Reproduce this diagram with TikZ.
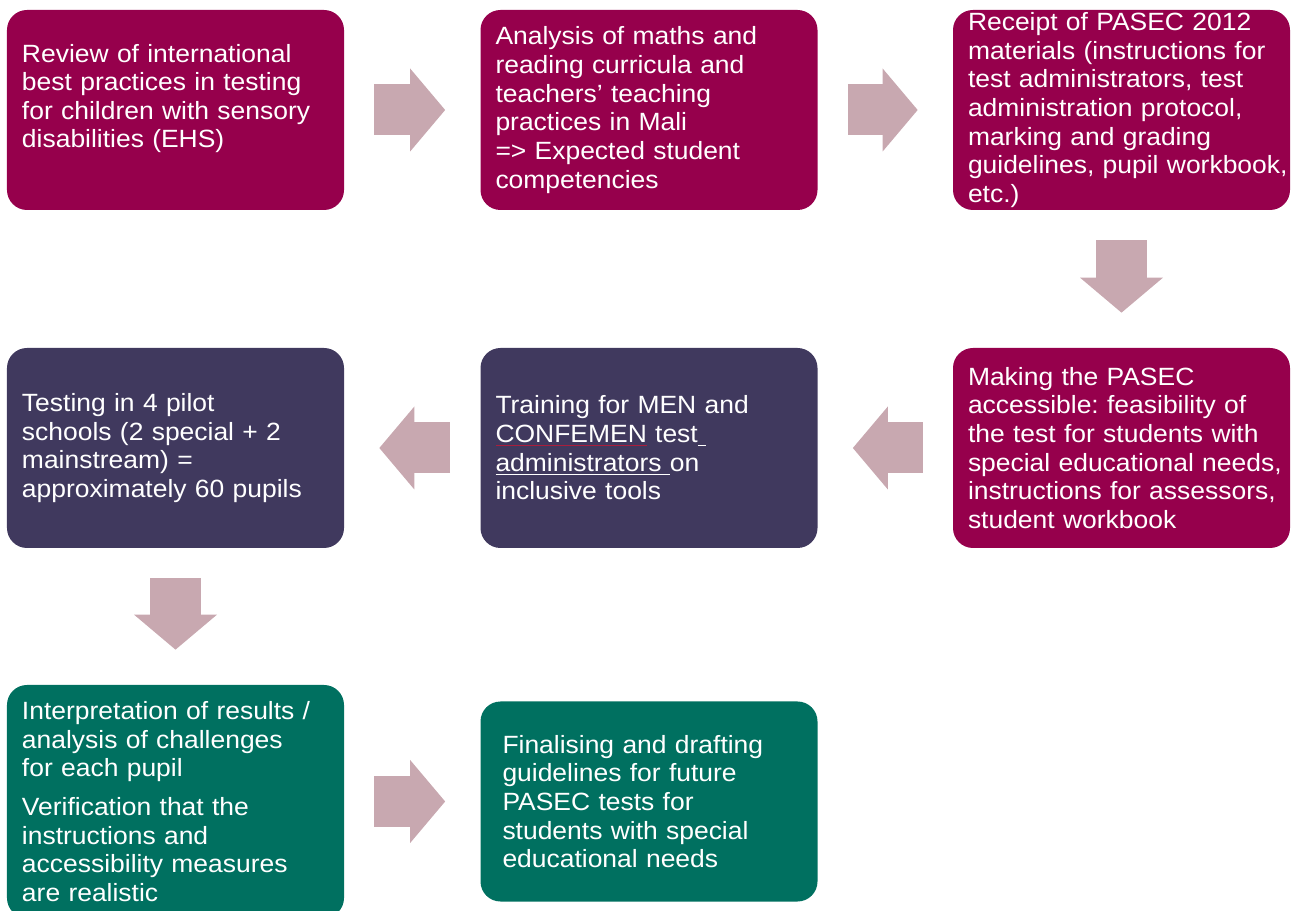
\documentclass[tikz,border=0pt]{standalone}
\usepackage{fontspec}
\setmainfont[FakeStretch=1.06]{Liberation Sans}
\usepackage{tikz}
\usetikzlibrary{positioning,arrows.meta}

\definecolor{berry}{RGB}{150,0,76}
\definecolor{slatepurple}{RGB}{64,57,94}
\definecolor{deepgreen}{RGB}{0,112,96}
\definecolor{mauve}{RGB}{200,168,176}
\definecolor{spellred}{RGB}{170,30,60}

\begin{document}
\begin{tikzpicture}[x=0.2mm,y=-0.2mm,
  box/.style={fill=#1,text=white,rounded corners=4mm,align=left,inner xsep=3mm,inner ysep=0pt,
    text width=61.4mm,minimum width=67.4mm,minimum height=40mm,
    font=\fontsize{14.2pt}{16.3pt}\selectfont\frenchspacing},
  blk/.style={draw=mauve,line width=10.2mm,shorten <=6mm,shorten >=7mm,
    -{Triangle[width=16.6mm,length=7mm,line width=0pt]}}]
\useasboundingbox (0,0) rectangle (1293,911);
% top row
\node[box=berry] (review) at (175.5,110) {Review of international\\best practices in testing\\for children with sensory\\disabilities (EHS)\rule[-5.6mm]{0pt}{0pt}};
\node[box=berry] (curricula) at (649,110) {Analysis of maths and\\reading curricula and\\teachers’ teaching\\practices in Mali\\=> Expected student\\competencies};
\node[box=berry] (receipt) at (1121.5,110) {Receipt of PASEC 2012\\\mbox{materials (instructions for}\\test administrators, test\\administration protocol,\\marking and grading\\\mbox{guidelines, pupil workbook,}\\etc.)};
% middle row
\node[box=berry] (access) at (1121.5,448) {Making the PASEC\\accessible: feasibility of\\\mbox{the test for students with}\\\mbox{special educational needs,}\\\mbox{instructions for assessors,}\\student workbook};
\node[box=slatepurple] (training) at (649,448) {Training for MEN and\\\leavevmode{\color{spellred}\rlap{\underline{\phantom{CONFEMEN}}}}CONFEMEN test\underline{\ }\\\underline{administrators\ }on\\inclusive tools};
\node[box=slatepurple] (pilot) at (175.5,448) {Testing in 4 pilot\\schools (2 special + 2\\mainstream) =\\approximately 60 pupils};
% bottom row
\node[box=deepgreen,minimum height=46.6mm] (interp) at (175.5,801.5) {Interpretation of results /\\analysis of challenges\\for each pupil\\[2mm]Verification that the\\instructions and\\accessibility measures\\are realistic};
\node[box=deepgreen,inner xsep=4.4mm,text width=58.6mm] (final) at (649,801.5) {Finalising and drafting\\guidelines for future\\PASEC tests for\\students with special\\educational needs};
% block arrows
\draw[blk] (review) -- (curricula);
\draw[blk] (curricula) -- (receipt);
\draw[blk] (receipt) -- (access);
\draw[blk] (access) -- (training);
\draw[blk] (training) -- (pilot);
\draw[blk] (pilot) -- (interp);
\draw[blk] (interp) -- (final);
\end{tikzpicture}
\end{document}
